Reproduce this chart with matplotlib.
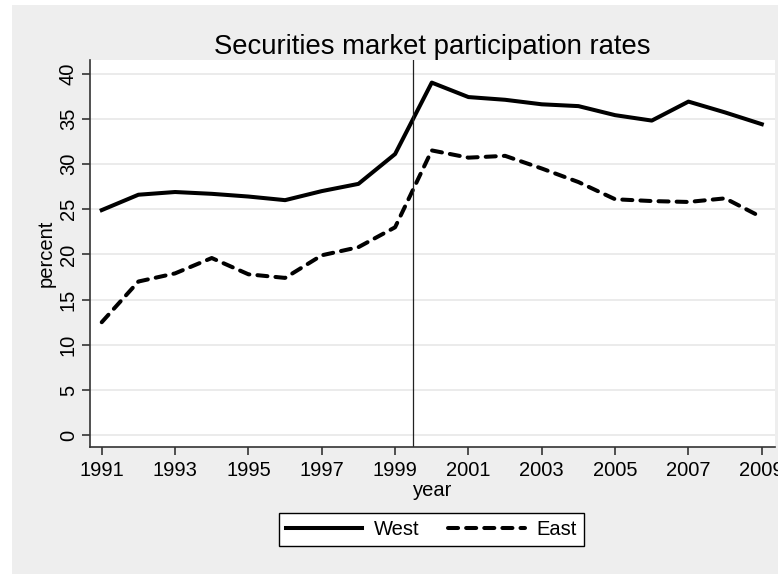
import matplotlib.pyplot as plt
from matplotlib.patches import Rectangle

years = list(range(1991, 2010))
west = [24.9, 26.6, 26.9, 26.7, 26.4, 26.0, 27.0, 27.8, 31.1, 39.0,
        37.4, 37.1, 36.6, 36.4, 35.4, 34.8, 36.9, 35.7, 34.4]
east = [12.5, 17.0, 17.9, 19.6, 17.8, 17.4, 19.9, 20.8, 23.0, 31.5,
        30.7, 30.9, 29.5, 28.0, 26.1, 25.9, 25.8, 26.2, 24.1]
xticks = list(range(1991, 2010, 2))
yticks = list(range(0, 41, 5))

plt.rcParams['font.family'] = ['Liberation Sans', 'DejaVu Sans']

fig = plt.figure(figsize=(7.78, 5.74), dpi=100)
fig.patch.set_facecolor('white')
# gray Stata-like background, with a thin white margin top/left
fig.patches.append(Rectangle((12 / 778, 0), 1, 1 - 5 / 574, transform=fig.transFigure,
                             facecolor='#eeeeee', edgecolor='none', zorder=-10))

ax = fig.add_axes([90 / 778, 1 - 447 / 574, 685 / 778, 387 / 574])
ax.set_facecolor('white')

ax.plot(years, west, color='black', lw=2.9, label='West', solid_joinstyle='round')
ax.plot(years, east, color='black', lw=2.9, ls=(0, (2.5, 2.0)), label='East',
        dash_capstyle='round')
ax.axvline(1999.5, color='#222222', lw=0.9)

ax.set_xlim(1990.68, 2009.36)
ax.set_ylim(-1.3, 41.5)
ax.set_xticks(xticks)
ax.set_yticks(yticks)
ax.grid(axis='y', color='#e8e8e8', lw=1.2)
ax.set_axisbelow(True)

for side in ['top', 'right']:
    ax.spines[side].set_visible(False)
for side in ['left', 'bottom']:
    ax.spines[side].set_linewidth(1.2)
    ax.spines[side].set_color('#333333')

ax.tick_params(axis='both', length=5.8, width=1.2, color='#333333', labelsize=14.5)
ax.tick_params(axis='x', pad=4)
ax.tick_params(axis='y', pad=3)
plt.setp(ax.get_yticklabels(), rotation=90, va='center')

ax.set_title('Securities market participation rates', fontsize=19.8, pad=4)
ax.set_xlabel('year', fontsize=14.5, labelpad=1)
ax.set_ylabel('percent', fontsize=14.5, labelpad=2.5)

leg = fig.legend(loc='center', bbox_to_anchor=(0.5546, 0.0775), ncol=2,
                 fontsize=14.5, handlelength=3.8, columnspacing=1.4,
                 handletextpad=0.6, borderpad=0.35,
                 fancybox=False, edgecolor='black', framealpha=1)
leg.get_frame().set_linewidth(1.0)

fig.savefig('out.png', dpi=100)
